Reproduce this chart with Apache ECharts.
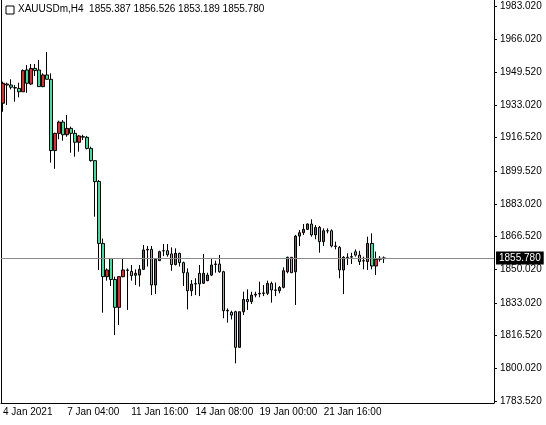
<!DOCTYPE html>
<html><head><meta charset="utf-8">
<script src="https://cdn.jsdelivr.net/npm/echarts@6/dist/echarts.min.js"></script>
<style>html,body{margin:0;padding:0;background:#fff}#c{width:546px;height:425px}</style>
</head><body><div id="c"></div>
<script>
const opens=[1933.9,1943.1,1943.1,1941.8,1941.4,1939.7,1950.7,1943.6,1951.5,1950.7,1942.3,1948.2,1946.0,1910.0,1918.7,1924.4,1918.0,1921.2,1918.7,1914.2,1917.0,1916.7,1911.1,1904.9,1894.4,1863.1,1846.3,1855.5,1844.9,1830.8,1846.3,1849.7,1849.0,1847.0,1847.1,1850.0,1859.8,1860.1,1842.1,1854.4,1859.4,1859.4,1857.8,1852.4,1858.1,1853.4,1848.3,1839.2,1842.6,1848.0,1843.0,1844.3,1847.1,1852.5,1852.7,1848.8,1829.3,1828.3,1828.6,1810.6,1828.6,1834.8,1833.7,1837.0,1837.6,1837.9,1837.9,1842.9,1839.6,1839.2,1840.9,1848.8,1856.1,1848.8,1866.8,1868.5,1870.2,1872.9,1867.4,1871.2,1864.0,1869.5,1869.5,1861.8,1861.1,1849.7,1856.1,1856.4,1858.9,1857.2,1854.4,1853.9,1863.1,1851.7,1855.1,1855.4];
const closes=[1944.0,1943.6,1942.0,1941.6,1939.7,1950.4,1944.0,1951.5,1950.4,1942.3,1948.2,1946.0,1910.0,1918.7,1924.4,1918.0,1921.2,1918.7,1914.2,1917.4,1916.8,1911.1,1904.9,1894.3,1863.1,1846.3,1849.7,1844.9,1830.8,1846.3,1849.7,1849.5,1846.8,1848.0,1850.0,1859.8,1860.1,1842.1,1855.1,1858.9,1859.3,1857.4,1852.4,1858.1,1853.4,1848.3,1839.2,1842.6,1842.8,1842.6,1848.0,1847.1,1852.2,1852.7,1848.8,1829.1,1829.0,1826.9,1810.6,1828.6,1834.8,1833.7,1837.0,1837.4,1837.9,1838.1,1842.9,1839.6,1839.4,1840.9,1849.3,1856.1,1848.3,1866.8,1868.5,1870.2,1872.9,1867.4,1871.2,1864.0,1869.5,1869.4,1861.8,1861.6,1849.7,1856.1,1855.9,1856.2,1857.2,1853.9,1854.2,1863.1,1851.7,1855.1,1855.6,1855.8];
const lows=[1929.6,1933.0,1940.9,1934.7,1936.9,1939.7,1939.2,1943.1,1947.7,1942.3,1942.0,1946.0,1903.9,1900.8,1915.7,1915.0,1917.0,1908.9,1906.9,1909.4,1915.3,1910.6,1904.4,1876.6,1849.7,1828.1,1844.3,1841.6,1816.8,1821.9,1846.0,1829.5,1844.3,1842.1,1841.3,1849.7,1851.4,1837.0,1837.5,1854.2,1856.7,1856.4,1849.3,1852.0,1851.4,1841.6,1829.8,1836.5,1837.0,1836.5,1842.6,1844.0,1846.6,1848.3,1848.3,1825.3,1823.1,1824.7,1802.5,1810.6,1826.9,1829.5,1832.5,1835.9,1835.9,1836.5,1837.0,1833.2,1836.5,1837.9,1840.4,1848.0,1848.3,1832.0,1861.8,1867.4,1869.9,1866.5,1865.2,1858.4,1861.8,1868.2,1861.1,1860.1,1845.5,1837.5,1852.2,1852.7,1856.4,1852.2,1850.0,1849.7,1850.0,1847.1,1853.9,1853.2];
const highs=[1944.8,1944.3,1946.0,1943.1,1944.3,1951.0,1953.2,1953.7,1953.7,1955.7,1949.0,1959.8,1949.0,1919.0,1925.1,1925.4,1928.0,1922.1,1920.4,1917.9,1918.0,1917.4,1912.0,1905.2,1895.1,1865.6,1850.5,1855.5,1846.3,1846.6,1855.5,1850.5,1852.2,1850.0,1852.2,1862.3,1861.8,1861.8,1855.6,1859.4,1862.8,1862.8,1861.1,1860.6,1858.4,1853.9,1850.5,1844.6,1845.5,1852.2,1857.8,1848.3,1855.6,1854.4,1857.3,1849.3,1830.3,1829.1,1829.1,1828.6,1838.7,1839.9,1838.7,1838.7,1843.8,1842.1,1844.3,1843.8,1843.3,1841.6,1851.0,1856.4,1856.1,1867.4,1869.9,1872.9,1873.2,1875.3,1872.4,1871.9,1870.7,1870.7,1870.2,1864.0,1861.8,1856.7,1858.1,1858.4,1860.1,1859.4,1856.4,1866.5,1868.2,1859.0,1856.7,1856.5];
const yTicks=[1783.52,1800.02,1816.52,1833.02,1850.02,1866.52,1883.02,1899.52,1916.52,1933.02,1949.52,1966.02,1983.02];
const xTickIdx=[0,16,32,48,64,80];
const xTickText=['4 Jan 2021','7 Jan 04:00','11 Jan 16:00','14 Jan 08:00','19 Jan 00:00','21 Jan 16:00'];
const lastPrice=1855.78;
const title='XAUUSDm,H4  1855.387 1856.526 1853.189 1855.780';
const totalSlots=123;

const cats=[];for(let i=0;i<totalSlots;i++)cats.push(String(i));
const data=opens.map((o,i)=>[o,closes[i],lows[i],highs[i]]);
const labelMap={};xTickIdx.forEach((k,j)=>labelMap[k]=xTickText[j]);
const ch=echarts.init(document.getElementById('c'));
const font='Liberation Sans';
ch.setOption({
  animation:false,
  grid:{left:1,right:52,top:0,bottom:22},
  xAxis:{type:'category',data:cats,boundaryGap:true,
    axisLine:{lineStyle:{color:'#000'}},
    axisTick:{alignWithLabel:true,length:3,lineStyle:{color:'#000'},interval:(i)=>labelMap[i]!==undefined},
    axisLabel:{interval:(i)=>labelMap[i]!==undefined,formatter:(v,i)=>labelMap[i]||'',align:'left',margin:4,color:'#000',fontFamily:font,fontSize:10,hideOverlap:false}},
  yAxis:[{type:'value',position:'right',min:1782.5,max:1986.05,
    axisLine:{show:true,lineStyle:{color:'#000'}},
    axisTick:{show:true,length:3,customValues:yTicks,lineStyle:{color:'#000'}},
    axisLabel:{customValues:yTicks,formatter:v=>v.toFixed(3),margin:6,color:'#000',fontFamily:font,fontSize:10},
    splitLine:{show:false}},
   {type:'value',position:'left',min:1782.5,max:1986.05,axisLine:{show:true,lineStyle:{color:'#000'}},axisTick:{show:false},axisLabel:{show:false},splitLine:{show:false}}],
  series:[{type:'candlestick',data:data,barWidth:3,
    itemStyle:{color:'#e8282a',color0:'#33e59c',borderColor:'#000',borderColor0:'#000',borderWidth:1},
    markLine:{symbol:'none',silent:true,data:[{yAxis:lastPrice}],
      lineStyle:{color:'#8a8a8a',type:'solid',width:1},
      label:{position:'end',formatter:lastPrice.toFixed(3),backgroundColor:'#000',color:'#fff',fontFamily:font,fontSize:10,padding:[2,3,1,3],distance:2}}}],
  graphic:[{type:'text',left:18,top:4,style:{text:title,fill:'#000',font:'10px "Liberation Sans"'}},
    {type:'rect',shape:{x:6,y:6,width:8,height:8},style:{fill:'#fff',stroke:'#000',lineWidth:1}}]
});
</script></body></html>
